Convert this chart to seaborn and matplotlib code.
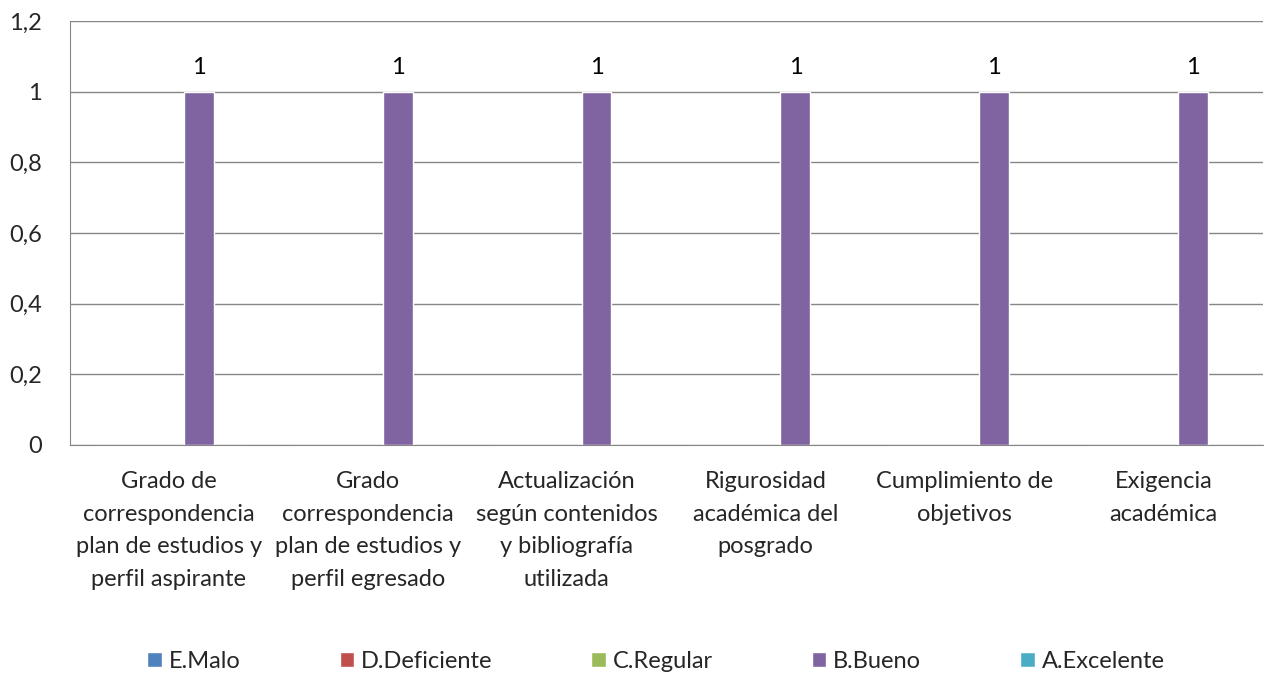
import numpy as np
import pandas as pd
import seaborn as sns
import matplotlib.pyplot as plt
from matplotlib.patches import Patch

categorias = ["Grado de\ncorrespondencia\nplan de estudios y\nperfil aspirante",
              "Grado\ncorrespondencia\nplan de estudios y\nperfil egresado",
              "Actualización\nsegún contenidos\ny bibliografía\nutilizada",
              "Rigurosidad\nacadémica del\nposgrado",
              "Cumplimiento de\nobjetivos",
              "Exigencia\nacadémica"]
series = ["E.Malo", "D.Deficiente", "C.Regular", "B.Bueno", "A.Excelente"]
malo = [0, 0, 0, 0, 0, 0]
deficiente = [0, 0, 0, 0, 0, 0]
regular = [0, 0, 0, 0, 0, 0]
bueno = [1, 1, 1, 1, 1, 1]
excelente = [0, 0, 0, 0, 0, 0]
colores = ["#4F81BD", "#C0504D", "#9BBB59", "#8064A2", "#4BACC6"]

df = pd.DataFrame({"cat": categorias * 5,
                   "serie": np.repeat(series, len(categorias)),
                   "valor": malo + deficiente + regular + bueno + excelente})

sns.set_style("white")
plt.rcParams['font.family'] = ['Lato', 'DejaVu Sans']
fs = 17

fig, ax = plt.subplots(figsize=(12.64, 6.75), dpi=100)
fig.subplots_adjust(left=0.055, right=0.999, top=0.969, bottom=0.341)

sns.barplot(data=df, x="cat", y="valor", hue="serie", hue_order=series,
            palette=colores, width=0.75, ax=ax, legend=False, saturation=1)

# etiquetas solo para B.Bueno
ax.bar_label(ax.containers[3], fmt="%g", padding=10, fontsize=fs, color="black")

ax.set_ylim(0, 1.2)
ax.set_yticks(np.arange(0, 1.21, 0.2))
ax.set_yticklabels(["0", "0,2", "0,4", "0,6", "0,8", "1", "1,2"])
ax.set_xlim(-0.5, 5.5)
ax.yaxis.grid(True, color="#868686", linewidth=1)
ax.set_axisbelow(True)
for s in ["top", "right"]:
    ax.spines[s].set_visible(False)
ax.spines["left"].set_color("#868686")
ax.spines["bottom"].set_color("#868686")
ax.set_xlabel("")
ax.set_ylabel("")
ax.tick_params(axis="y", labelsize=fs, pad=20, length=0)
ax.tick_params(axis="x", labelsize=fs, pad=19, length=0)
for t in ax.get_xticklabels():
    t.set_linespacing(1.68)

handles = [Patch(facecolor=c, label=s) for c, s in zip(colores, series)]
fig.legend(handles=handles, loc="lower center", ncol=5, frameon=False,
           bbox_to_anchor=(0.519, -0.027), fontsize=fs, handlelength=0.6,
           handleheight=0.6, handletextpad=0.3, columnspacing=4.2)

plt.savefig("out.png", dpi=100)
